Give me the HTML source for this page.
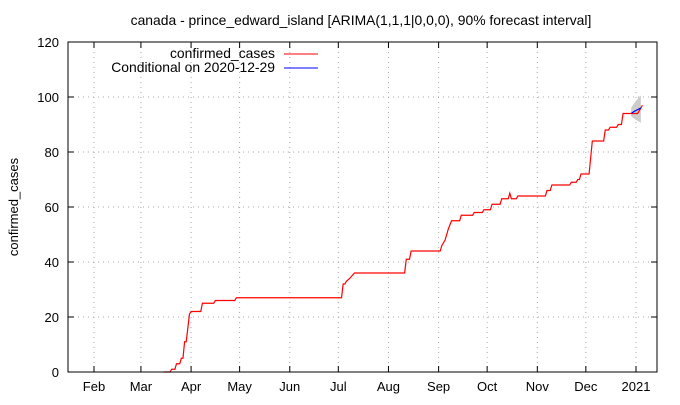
<!DOCTYPE html>
<html><head><meta charset="utf-8"><style>
body{margin:0;background:#fff}
svg text{font-family:"Liberation Sans",sans-serif;font-size:13px;fill:#000}
</style></head><body>
<svg id="c" width="680" height="400" xmlns="http://www.w3.org/2000/svg"></svg>
<script>
const monthLabels=["Feb","Mar","Apr","May","Jun","Jul","Aug","Sep","Oct","Nov","Dec","2021"];
const monthDays=[31,60,91,121,152,182,213,244,274,305,335,366];
const yTicks=[0,20,40,60,80,100,120];
const caseDays=[74,78,79,81,82,84,85,86,87,88,90,91,97,98,105,106,118,119,184,185,186,187,189,192,223,224,226,227,245,246,247,248,250,252,257,258,265,266,271,272,276,277,282,283,287,288,289,292,293,310,311,313,314,325,326,329,330,331,332,337,339,346,347,349,350,354,355,357,358,367,370];
const caseValues=[0,0,1,1,3,3,5,5,11,11,21,22,22,25,25,26,26,27,27,32,32,33,34,36,36,41,41,44,44,46,47,48,52,55,55,57,57,58,58,59,59,61,61,63,63,65,63,63,64,64,66,66,68,68,69,69,70,70,72,72,84,84,88,88,89,89,90,90,94,94,97];
const fcDays=[363,364,365,366,367,368,369];
const fcValues=[94,94.4,94.8,95.1,95.4,95.7,96];
const fcLow=[93,92.5,92,91.7,91.3,91,90.6];
const fcHigh=[96,97,97.8,98.6,99.3,100,100.6];

const L=68,R=657,T=42,B=372;
const xs=d=>94+(d-31)*(636-94)/(366-31);
const ys=v=>B-(v/120)*(B-T);
const svg=document.getElementById('c');
const NS='http://www.w3.org/2000/svg';
function mk(t,a,p){const e=document.createElementNS(NS,t);for(const k in a)e.setAttribute(k,a[k]);(p||svg).appendChild(e);return e;}

let e;
e=mk('text',{x:361,y:25,'text-anchor':'middle',style:'font-size:13.9px'});e.textContent='canada - prince_edward_island [ARIMA(1,1,1|0,0,0), 90% forecast interval]';


e=mk('text',{x:18,y:207,'text-anchor':'middle',transform:'rotate(-90 18 207)'});e.textContent='confirmed_cases';



yTicks.forEach(v=>{
  const y=ys(v);
  if(v>0&&v<120){e=mk('line',{x1:L,x2:R,y1:y,y2:y,stroke:'#aaa','stroke-dasharray':'1,4'});
  
  }
  mk('line',{x1:L,x2:L+6,y1:y,y2:y,stroke:'#000'});
  mk('line',{x1:R,x2:R-6,y1:y,y2:y,stroke:'#000'});
  e=mk('text',{x:L-9,y:y+5,'text-anchor':'end'});e.textContent=v;
  
  
});
monthDays.forEach((d,i)=>{
  const x=xs(d);
  e=mk('line',{x1:x,x2:x,y1:T,y2:B,stroke:'#aaa','stroke-dasharray':'1,4'});
  
  
  mk('line',{x1:x,x2:x,y1:B,y2:B-6,stroke:'#000'});
  mk('line',{x1:x,x2:x,y1:T,y2:T+6,stroke:'#000'});
  e=mk('text',{x:x,y:391,'text-anchor':'middle'});e.textContent=monthLabels[i];
  
  
});

let band=fcDays.map((d,i)=>xs(d)+','+ys(fcHigh[i])).concat(fcDays.map((d,i)=>xs(d)+','+ys(fcLow[i])).reverse()).join(' ');
e=mk('polygon',{points:band,fill:'#ccc',stroke:'none'});



e=mk('polyline',{points:caseDays.map((d,i)=>xs(d)+','+ys(caseValues[i])).join(' '),fill:'none',stroke:'#f00','stroke-width':1.2});


e=mk('polyline',{points:fcDays.map((d,i)=>xs(d)+','+ys(fcValues[i])).join(' '),fill:'none',stroke:'#00f','stroke-width':1.2});


e=mk('rect',{x:L,y:T,width:R-L,height:B-T,fill:'none',stroke:'#000'});



e=mk('text',{x:275,y:58,'text-anchor':'end',style:'font-size:13.9px'});e.textContent='confirmed_cases';


mk('line',{x1:284,x2:318,y1:54,y2:54,stroke:'#f00'});
e=mk('text',{x:275,y:72,'text-anchor':'end',style:'font-size:13.9px'});e.textContent='Conditional on 2020-12-29';


mk('line',{x1:284,x2:318,y1:68,y2:68,stroke:'#00f'});
</script>
</body></html>
